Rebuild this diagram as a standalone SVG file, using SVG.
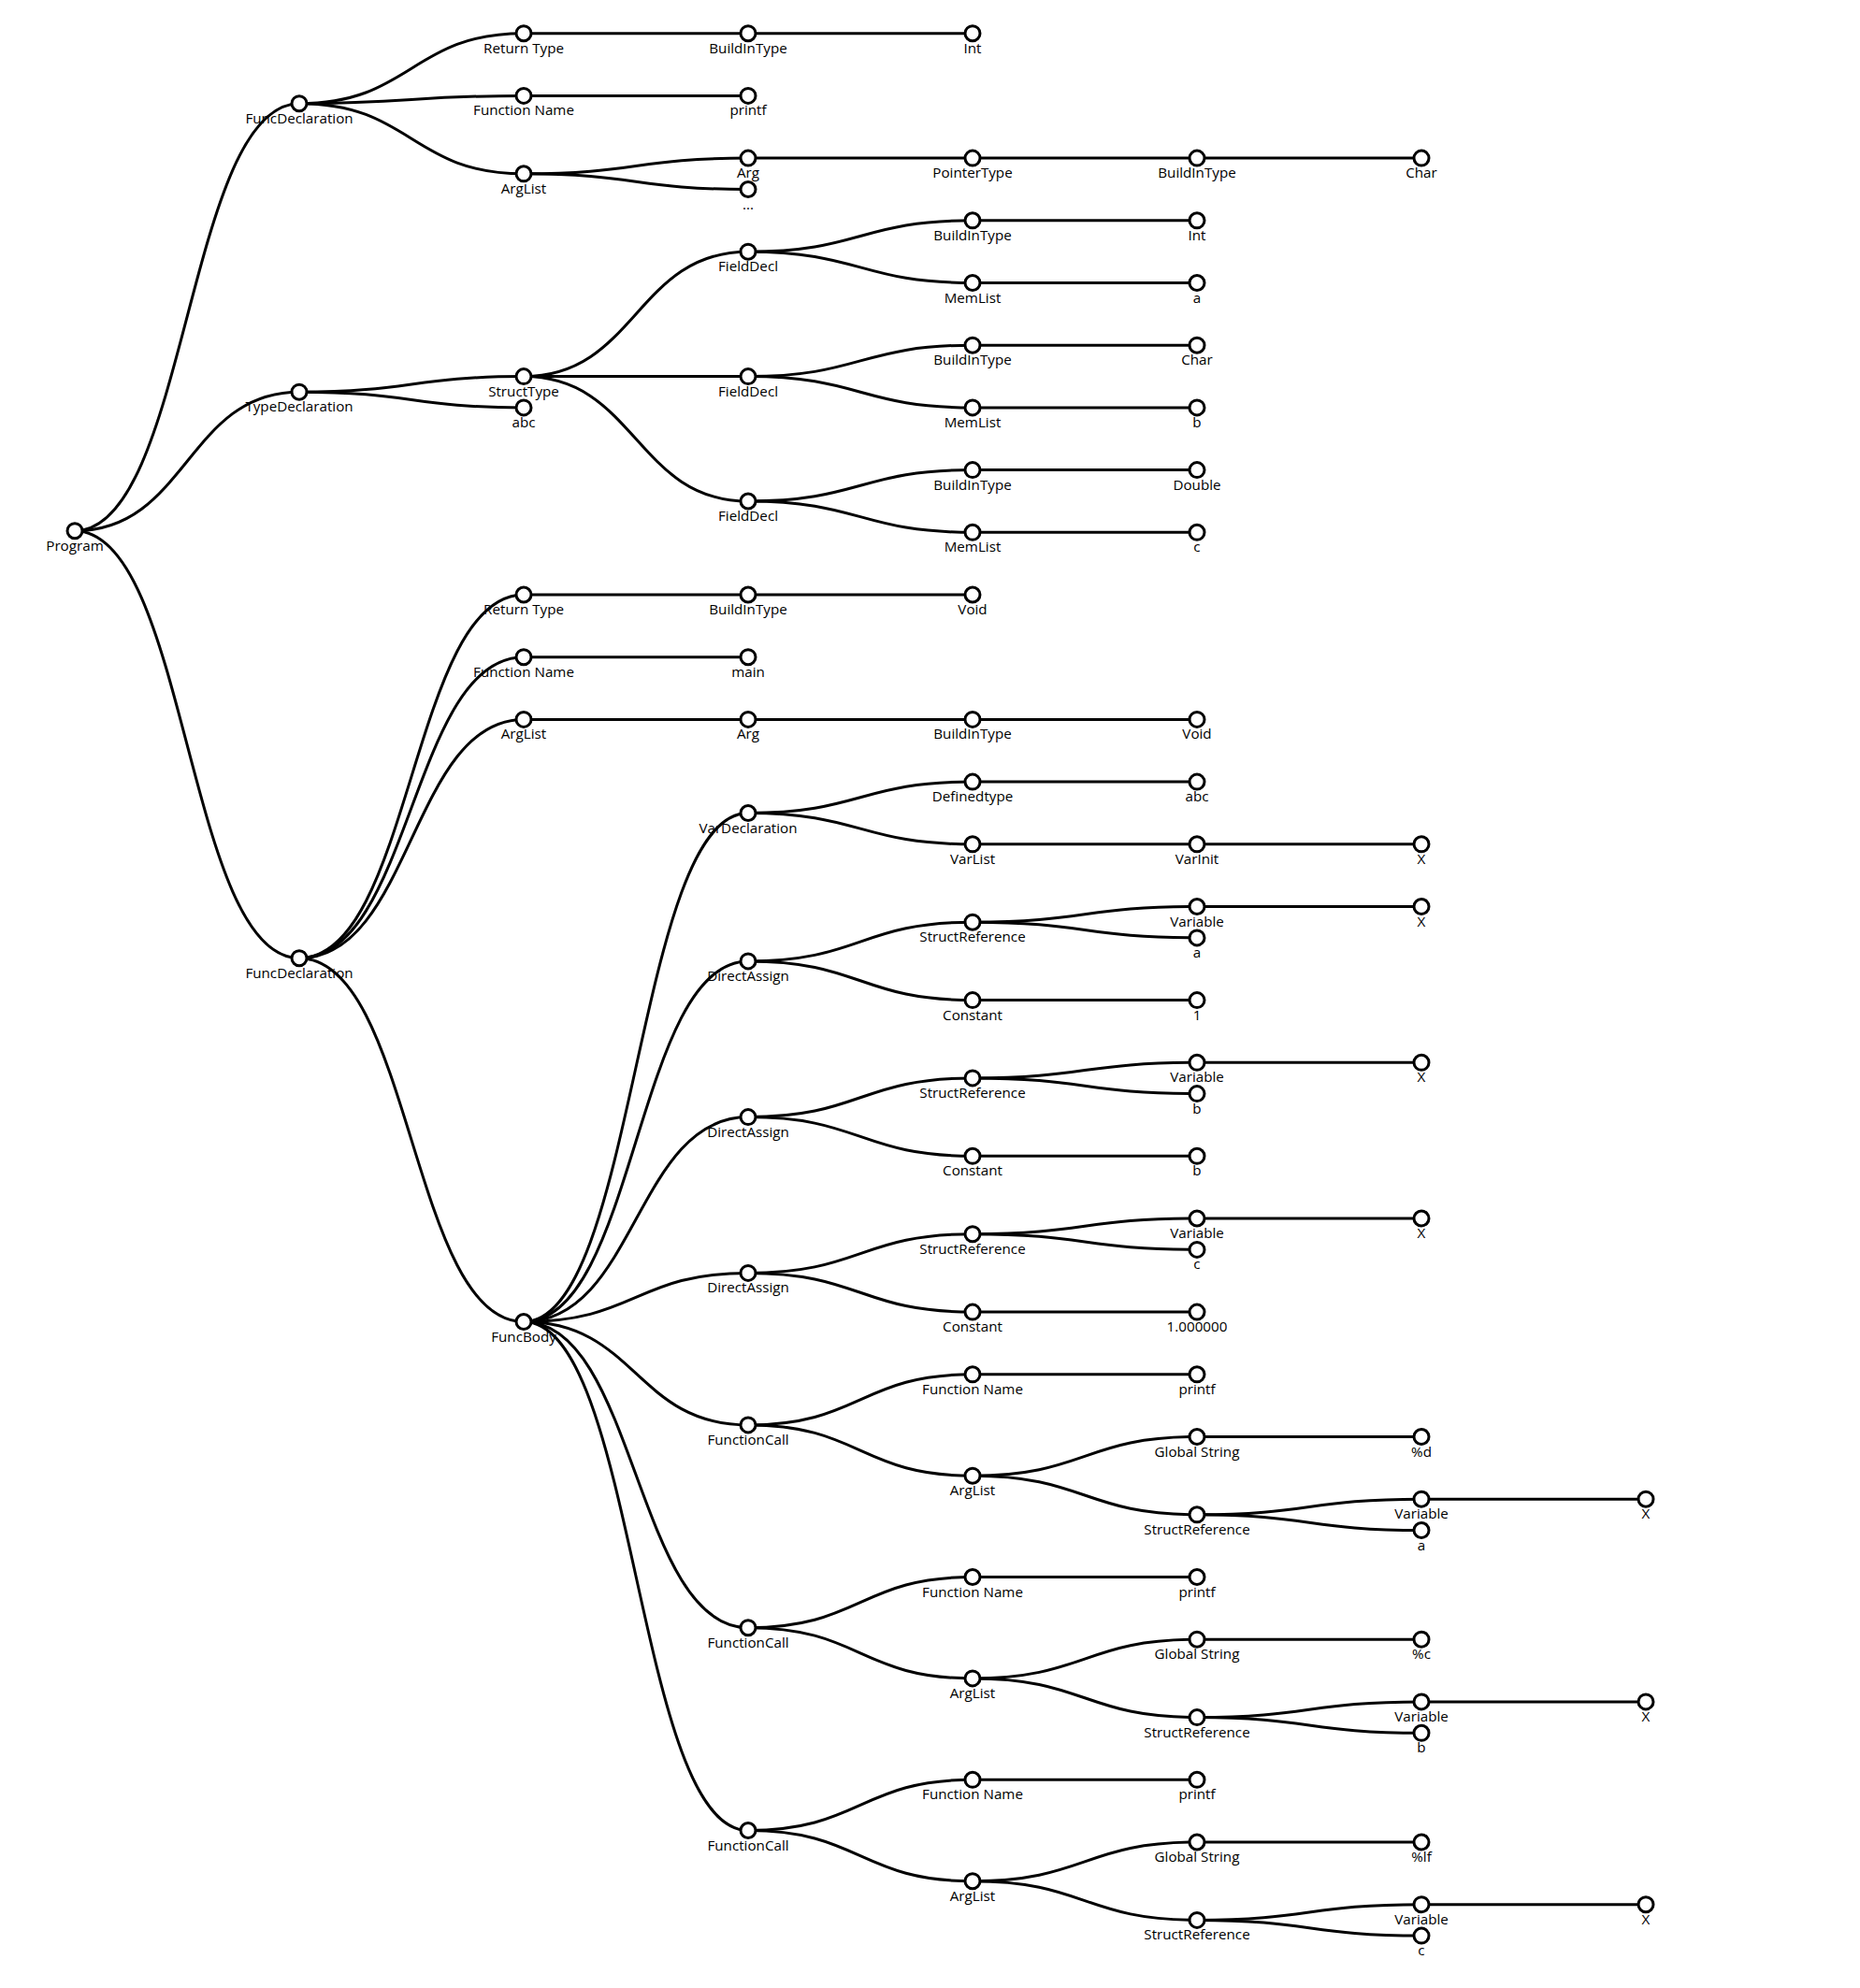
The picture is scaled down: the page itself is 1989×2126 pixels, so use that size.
<svg xmlns="http://www.w3.org/2000/svg" width="1989" height="2126" viewBox="0 0 1989 2126">
<style>
.link{fill:none;stroke:#000;stroke-width:3}
.node circle{fill:#fff;stroke:#000;stroke-width:3}
.node text{font-family:"Open Sans","Noto Sans",sans-serif;font-size:15.2px;fill:#000;text-anchor:middle}
</style>
<rect width="1989" height="2126" fill="#fff"/>
<g id="links">
<path class="link" d="M80 567.7C200 567.7 200 110.7 320 110.7"/>
<path class="link" d="M80 567.7C200 567.7 200 419.2 320 419.2"/>
<path class="link" d="M80 567.7C200 567.7 200 1024.7 320 1024.7"/>
<path class="link" d="M320 110.7C440 110.7 440 35.7 560 35.7"/>
<path class="link" d="M320 110.7C440 110.7 440 102.4 560 102.4"/>
<path class="link" d="M320 110.7C440 110.7 440 185.8 560 185.8"/>
<path class="link" d="M560 35.7H1040"/>
<path class="link" d="M560 102.4H800"/>
<path class="link" d="M560 185.8C680 185.8 680 169.1 800 169.1"/>
<path class="link" d="M560 185.8C680 185.8 680 202.5 800 202.5"/>
<path class="link" d="M800 169.1H1520"/>
<path class="link" d="M320 419.2C440 419.2 440 402.6 560 402.6"/>
<path class="link" d="M320 419.2C440 419.2 440 435.9 560 435.9"/>
<path class="link" d="M560 402.6C680 402.6 680 269.2 800 269.2"/>
<path class="link" d="M560 402.6H800"/>
<path class="link" d="M560 402.6C680 402.6 680 536 800 536"/>
<path class="link" d="M800 269.2C920 269.2 920 235.8 1040 235.8"/>
<path class="link" d="M800 269.2C920 269.2 920 302.5 1040 302.5"/>
<path class="link" d="M1040 235.8H1280"/>
<path class="link" d="M1040 302.5H1280"/>
<path class="link" d="M800 402.6C920 402.6 920 369.2 1040 369.2"/>
<path class="link" d="M800 402.6C920 402.6 920 435.9 1040 435.9"/>
<path class="link" d="M1040 369.2H1280"/>
<path class="link" d="M1040 435.9H1280"/>
<path class="link" d="M800 536C920 536 920 502.6 1040 502.6"/>
<path class="link" d="M800 536C920 536 920 569.3 1040 569.3"/>
<path class="link" d="M1040 502.6H1280"/>
<path class="link" d="M1040 569.3H1280"/>
<path class="link" d="M320 1024.7C440 1024.7 440 636 560 636"/>
<path class="link" d="M320 1024.7C440 1024.7 440 702.7 560 702.7"/>
<path class="link" d="M320 1024.7C440 1024.7 440 769.4 560 769.4"/>
<path class="link" d="M320 1024.7C440 1024.7 440 1413.5 560 1413.5"/>
<path class="link" d="M560 636H1040"/>
<path class="link" d="M560 702.7H800"/>
<path class="link" d="M560 769.4H1280"/>
<path class="link" d="M560 1413.5C680 1413.5 680 869.5 800 869.5"/>
<path class="link" d="M560 1413.5C680 1413.5 680 1027.9 800 1027.9"/>
<path class="link" d="M560 1413.5C680 1413.5 680 1194.6 800 1194.6"/>
<path class="link" d="M560 1413.5C680 1413.5 680 1361.4 800 1361.4"/>
<path class="link" d="M560 1413.5C680 1413.5 680 1523.9 800 1523.9"/>
<path class="link" d="M560 1413.5C680 1413.5 680 1740.7 800 1740.7"/>
<path class="link" d="M560 1413.5C680 1413.5 680 1957.5 800 1957.5"/>
<path class="link" d="M800 869.5C920 869.5 920 836.1 1040 836.1"/>
<path class="link" d="M800 869.5C920 869.5 920 902.8 1040 902.8"/>
<path class="link" d="M1040 836.1H1280"/>
<path class="link" d="M1040 902.8H1520"/>
<path class="link" d="M800 1027.9C920 1027.9 920 986.2 1040 986.2"/>
<path class="link" d="M800 1027.9C920 1027.9 920 1069.6 1040 1069.6"/>
<path class="link" d="M1040 986.2C1160 986.2 1160 969.5 1280 969.5"/>
<path class="link" d="M1040 986.2C1160 986.2 1160 1002.9 1280 1002.9"/>
<path class="link" d="M1280 969.5H1520"/>
<path class="link" d="M1040 1069.6H1280"/>
<path class="link" d="M800 1194.6C920 1194.6 920 1152.9 1040 1152.9"/>
<path class="link" d="M800 1194.6C920 1194.6 920 1236.3 1040 1236.3"/>
<path class="link" d="M1040 1152.9C1160 1152.9 1160 1136.3 1280 1136.3"/>
<path class="link" d="M1040 1152.9C1160 1152.9 1160 1169.6 1280 1169.6"/>
<path class="link" d="M1280 1136.3H1520"/>
<path class="link" d="M1040 1236.3H1280"/>
<path class="link" d="M800 1361.4C920 1361.4 920 1319.7 1040 1319.7"/>
<path class="link" d="M800 1361.4C920 1361.4 920 1403.1 1040 1403.1"/>
<path class="link" d="M1040 1319.7C1160 1319.7 1160 1303 1280 1303"/>
<path class="link" d="M1040 1319.7C1160 1319.7 1160 1336.4 1280 1336.4"/>
<path class="link" d="M1280 1303H1520"/>
<path class="link" d="M1040 1403.1H1280"/>
<path class="link" d="M800 1523.9C920 1523.9 920 1469.8 1040 1469.8"/>
<path class="link" d="M800 1523.9C920 1523.9 920 1578.2 1040 1578.2"/>
<path class="link" d="M1040 1469.8H1280"/>
<path class="link" d="M1040 1578.2C1160 1578.2 1160 1536.5 1280 1536.5"/>
<path class="link" d="M1040 1578.2C1160 1578.2 1160 1619.8 1280 1619.8"/>
<path class="link" d="M1280 1536.5H1520"/>
<path class="link" d="M1280 1619.8C1400 1619.8 1400 1603.2 1520 1603.2"/>
<path class="link" d="M1280 1619.8C1400 1619.8 1400 1636.5 1520 1636.5"/>
<path class="link" d="M1520 1603.2H1760"/>
<path class="link" d="M800 1740.7C920 1740.7 920 1686.5 1040 1686.5"/>
<path class="link" d="M800 1740.7C920 1740.7 920 1794.9 1040 1794.9"/>
<path class="link" d="M1040 1686.5H1280"/>
<path class="link" d="M1040 1794.9C1160 1794.9 1160 1753.2 1280 1753.2"/>
<path class="link" d="M1040 1794.9C1160 1794.9 1160 1836.6 1280 1836.6"/>
<path class="link" d="M1280 1753.2H1520"/>
<path class="link" d="M1280 1836.6C1400 1836.6 1400 1819.9 1520 1819.9"/>
<path class="link" d="M1280 1836.6C1400 1836.6 1400 1853.3 1520 1853.3"/>
<path class="link" d="M1520 1819.9H1760"/>
<path class="link" d="M800 1957.5C920 1957.5 920 1903.3 1040 1903.3"/>
<path class="link" d="M800 1957.5C920 1957.5 920 2011.7 1040 2011.7"/>
<path class="link" d="M1040 1903.3H1280"/>
<path class="link" d="M1040 2011.7C1160 2011.7 1160 1970 1280 1970"/>
<path class="link" d="M1040 2011.7C1160 2011.7 1160 2053.4 1280 2053.4"/>
<path class="link" d="M1280 1970H1520"/>
<path class="link" d="M1280 2053.4C1400 2053.4 1400 2036.7 1520 2036.7"/>
<path class="link" d="M1280 2053.4C1400 2053.4 1400 2070.1 1520 2070.1"/>
<path class="link" d="M1520 2036.7H1760"/>
</g>
<g id="nodes">
<g id="n-program" class="node" transform="translate(80,567.7)"><circle r="8"/><text y="21">Program</text></g>
<g id="n-funcdecl1" class="node" transform="translate(320,110.7)"><circle r="8"/><text y="21">FuncDeclaration</text></g>
<g id="n-rettype1" class="node" transform="translate(560,35.7)"><circle r="8"/><text y="21">Return Type</text></g>
<g id="n-bit1" class="node" transform="translate(800,35.7)"><circle r="8"/><text y="21">BuildInType</text></g>
<g id="n-int1" class="node" transform="translate(1040,35.7)"><circle r="8"/><text y="21">Int</text></g>
<g id="n-fname1" class="node" transform="translate(560,102.4)"><circle r="8"/><text y="21">Function Name</text></g>
<g id="n-printf1" class="node" transform="translate(800,102.4)"><circle r="8"/><text y="21">printf</text></g>
<g id="n-arglist1" class="node" transform="translate(560,185.8)"><circle r="8"/><text y="21">ArgList</text></g>
<g id="n-arg1" class="node" transform="translate(800,169.1)"><circle r="8"/><text y="21">Arg</text></g>
<g id="n-ptrtype" class="node" transform="translate(1040,169.1)"><circle r="8"/><text y="21">PointerType</text></g>
<g id="n-bit2" class="node" transform="translate(1280,169.1)"><circle r="8"/><text y="21">BuildInType</text></g>
<g id="n-char1" class="node" transform="translate(1520,169.1)"><circle r="8"/><text y="21">Char</text></g>
<g id="n-dots" class="node" transform="translate(800,202.5)"><circle r="8"/><text y="21">...</text></g>
<g id="n-typedecl" class="node" transform="translate(320,419.2)"><circle r="8"/><text y="21">TypeDeclaration</text></g>
<g id="n-structtype" class="node" transform="translate(560,402.6)"><circle r="8"/><text y="21">StructType</text></g>
<g id="n-abc1" class="node" transform="translate(560,435.9)"><circle r="8"/><text y="21">abc</text></g>
<g id="n-field1" class="node" transform="translate(800,269.2)"><circle r="8"/><text y="21">FieldDecl</text></g>
<g id="n-fbit1" class="node" transform="translate(1040,235.8)"><circle r="8"/><text y="21">BuildInType</text></g>
<g id="n-fint" class="node" transform="translate(1280,235.8)"><circle r="8"/><text y="21">Int</text></g>
<g id="n-mem1" class="node" transform="translate(1040,302.5)"><circle r="8"/><text y="21">MemList</text></g>
<g id="n-ma" class="node" transform="translate(1280,302.5)"><circle r="8"/><text y="21">a</text></g>
<g id="n-field2" class="node" transform="translate(800,402.6)"><circle r="8"/><text y="21">FieldDecl</text></g>
<g id="n-fbit2" class="node" transform="translate(1040,369.2)"><circle r="8"/><text y="21">BuildInType</text></g>
<g id="n-fchar" class="node" transform="translate(1280,369.2)"><circle r="8"/><text y="21">Char</text></g>
<g id="n-mem2" class="node" transform="translate(1040,435.9)"><circle r="8"/><text y="21">MemList</text></g>
<g id="n-mb" class="node" transform="translate(1280,435.9)"><circle r="8"/><text y="21">b</text></g>
<g id="n-field3" class="node" transform="translate(800,536)"><circle r="8"/><text y="21">FieldDecl</text></g>
<g id="n-fbit3" class="node" transform="translate(1040,502.6)"><circle r="8"/><text y="21">BuildInType</text></g>
<g id="n-fdouble" class="node" transform="translate(1280,502.6)"><circle r="8"/><text y="21">Double</text></g>
<g id="n-mem3" class="node" transform="translate(1040,569.3)"><circle r="8"/><text y="21">MemList</text></g>
<g id="n-mc" class="node" transform="translate(1280,569.3)"><circle r="8"/><text y="21">c</text></g>
<g id="n-funcdecl2" class="node" transform="translate(320,1024.7)"><circle r="8"/><text y="21">FuncDeclaration</text></g>
<g id="n-rettype2" class="node" transform="translate(560,636)"><circle r="8"/><text y="21">Return Type</text></g>
<g id="n-bit3" class="node" transform="translate(800,636)"><circle r="8"/><text y="21">BuildInType</text></g>
<g id="n-void1" class="node" transform="translate(1040,636)"><circle r="8"/><text y="21">Void</text></g>
<g id="n-fname2" class="node" transform="translate(560,702.7)"><circle r="8"/><text y="21">Function Name</text></g>
<g id="n-main" class="node" transform="translate(800,702.7)"><circle r="8"/><text y="21">main</text></g>
<g id="n-arglist2" class="node" transform="translate(560,769.4)"><circle r="8"/><text y="21">ArgList</text></g>
<g id="n-arg2" class="node" transform="translate(800,769.4)"><circle r="8"/><text y="21">Arg</text></g>
<g id="n-bit4" class="node" transform="translate(1040,769.4)"><circle r="8"/><text y="21">BuildInType</text></g>
<g id="n-void2" class="node" transform="translate(1280,769.4)"><circle r="8"/><text y="21">Void</text></g>
<g id="n-funcbody" class="node" transform="translate(560,1413.5)"><circle r="8"/><text y="21">FuncBody</text></g>
<g id="n-vardecl" class="node" transform="translate(800,869.5)"><circle r="8"/><text y="21">VarDeclaration</text></g>
<g id="n-definedtype" class="node" transform="translate(1040,836.1)"><circle r="8"/><text y="21">Definedtype</text></g>
<g id="n-abc2" class="node" transform="translate(1280,836.1)"><circle r="8"/><text y="21">abc</text></g>
<g id="n-varlist" class="node" transform="translate(1040,902.8)"><circle r="8"/><text y="21">VarList</text></g>
<g id="n-varinit" class="node" transform="translate(1280,902.8)"><circle r="8"/><text y="21">VarInit</text></g>
<g id="n-x0" class="node" transform="translate(1520,902.8)"><circle r="8"/><text y="21">X</text></g>
<g id="n-da1" class="node" transform="translate(800,1027.9)"><circle r="8"/><text y="21">DirectAssign</text></g>
<g id="n-sr1" class="node" transform="translate(1040,986.2)"><circle r="8"/><text y="21">StructReference</text></g>
<g id="n-var1" class="node" transform="translate(1280,969.5)"><circle r="8"/><text y="21">Variable</text></g>
<g id="n-x1" class="node" transform="translate(1520,969.5)"><circle r="8"/><text y="21">X</text></g>
<g id="n-a1" class="node" transform="translate(1280,1002.9)"><circle r="8"/><text y="21">a</text></g>
<g id="n-const1" class="node" transform="translate(1040,1069.6)"><circle r="8"/><text y="21">Constant</text></g>
<g id="n-c1" class="node" transform="translate(1280,1069.6)"><circle r="8"/><text y="21">1</text></g>
<g id="n-da2" class="node" transform="translate(800,1194.6)"><circle r="8"/><text y="21">DirectAssign</text></g>
<g id="n-sr2" class="node" transform="translate(1040,1152.9)"><circle r="8"/><text y="21">StructReference</text></g>
<g id="n-var2" class="node" transform="translate(1280,1136.3)"><circle r="8"/><text y="21">Variable</text></g>
<g id="n-x2" class="node" transform="translate(1520,1136.3)"><circle r="8"/><text y="21">X</text></g>
<g id="n-b1" class="node" transform="translate(1280,1169.6)"><circle r="8"/><text y="21">b</text></g>
<g id="n-const2" class="node" transform="translate(1040,1236.3)"><circle r="8"/><text y="21">Constant</text></g>
<g id="n-c2" class="node" transform="translate(1280,1236.3)"><circle r="8"/><text y="21">b</text></g>
<g id="n-da3" class="node" transform="translate(800,1361.4)"><circle r="8"/><text y="21">DirectAssign</text></g>
<g id="n-sr3" class="node" transform="translate(1040,1319.7)"><circle r="8"/><text y="21">StructReference</text></g>
<g id="n-var3" class="node" transform="translate(1280,1303)"><circle r="8"/><text y="21">Variable</text></g>
<g id="n-x3" class="node" transform="translate(1520,1303)"><circle r="8"/><text y="21">X</text></g>
<g id="n-cc1" class="node" transform="translate(1280,1336.4)"><circle r="8"/><text y="21">c</text></g>
<g id="n-const3" class="node" transform="translate(1040,1403.1)"><circle r="8"/><text y="21">Constant</text></g>
<g id="n-c3" class="node" transform="translate(1280,1403.1)"><circle r="8"/><text y="21">1.000000</text></g>
<g id="n-fc1" class="node" transform="translate(800,1523.9)"><circle r="8"/><text y="21">FunctionCall</text></g>
<g id="n-fc1name" class="node" transform="translate(1040,1469.8)"><circle r="8"/><text y="21">Function Name</text></g>
<g id="n-fc1printf" class="node" transform="translate(1280,1469.8)"><circle r="8"/><text y="21">printf</text></g>
<g id="n-fc1args" class="node" transform="translate(1040,1578.2)"><circle r="8"/><text y="21">ArgList</text></g>
<g id="n-gs1" class="node" transform="translate(1280,1536.5)"><circle r="8"/><text y="21">Global String</text></g>
<g id="n-pd" class="node" transform="translate(1520,1536.5)"><circle r="8"/><text y="21">%d</text></g>
<g id="n-sr4" class="node" transform="translate(1280,1619.8)"><circle r="8"/><text y="21">StructReference</text></g>
<g id="n-var4" class="node" transform="translate(1520,1603.2)"><circle r="8"/><text y="21">Variable</text></g>
<g id="n-x4" class="node" transform="translate(1760,1603.2)"><circle r="8"/><text y="21">X</text></g>
<g id="n-a2" class="node" transform="translate(1520,1636.5)"><circle r="8"/><text y="21">a</text></g>
<g id="n-fc2" class="node" transform="translate(800,1740.7)"><circle r="8"/><text y="21">FunctionCall</text></g>
<g id="n-fc2name" class="node" transform="translate(1040,1686.5)"><circle r="8"/><text y="21">Function Name</text></g>
<g id="n-fc2printf" class="node" transform="translate(1280,1686.5)"><circle r="8"/><text y="21">printf</text></g>
<g id="n-fc2args" class="node" transform="translate(1040,1794.9)"><circle r="8"/><text y="21">ArgList</text></g>
<g id="n-gs2" class="node" transform="translate(1280,1753.2)"><circle r="8"/><text y="21">Global String</text></g>
<g id="n-pc" class="node" transform="translate(1520,1753.2)"><circle r="8"/><text y="21">%c</text></g>
<g id="n-sr5" class="node" transform="translate(1280,1836.6)"><circle r="8"/><text y="21">StructReference</text></g>
<g id="n-var5" class="node" transform="translate(1520,1819.9)"><circle r="8"/><text y="21">Variable</text></g>
<g id="n-x5" class="node" transform="translate(1760,1819.9)"><circle r="8"/><text y="21">X</text></g>
<g id="n-b2" class="node" transform="translate(1520,1853.3)"><circle r="8"/><text y="21">b</text></g>
<g id="n-fc3" class="node" transform="translate(800,1957.5)"><circle r="8"/><text y="21">FunctionCall</text></g>
<g id="n-fc3name" class="node" transform="translate(1040,1903.3)"><circle r="8"/><text y="21">Function Name</text></g>
<g id="n-fc3printf" class="node" transform="translate(1280,1903.3)"><circle r="8"/><text y="21">printf</text></g>
<g id="n-fc3args" class="node" transform="translate(1040,2011.7)"><circle r="8"/><text y="21">ArgList</text></g>
<g id="n-gs3" class="node" transform="translate(1280,1970)"><circle r="8"/><text y="21">Global String</text></g>
<g id="n-plf" class="node" transform="translate(1520,1970)"><circle r="8"/><text y="21">%lf</text></g>
<g id="n-sr6" class="node" transform="translate(1280,2053.4)"><circle r="8"/><text y="21">StructReference</text></g>
<g id="n-var6" class="node" transform="translate(1520,2036.7)"><circle r="8"/><text y="21">Variable</text></g>
<g id="n-x6" class="node" transform="translate(1760,2036.7)"><circle r="8"/><text y="21">X</text></g>
<g id="n-cc2" class="node" transform="translate(1520,2070.1)"><circle r="8"/><text y="21">c</text></g>
</g>
</svg>
